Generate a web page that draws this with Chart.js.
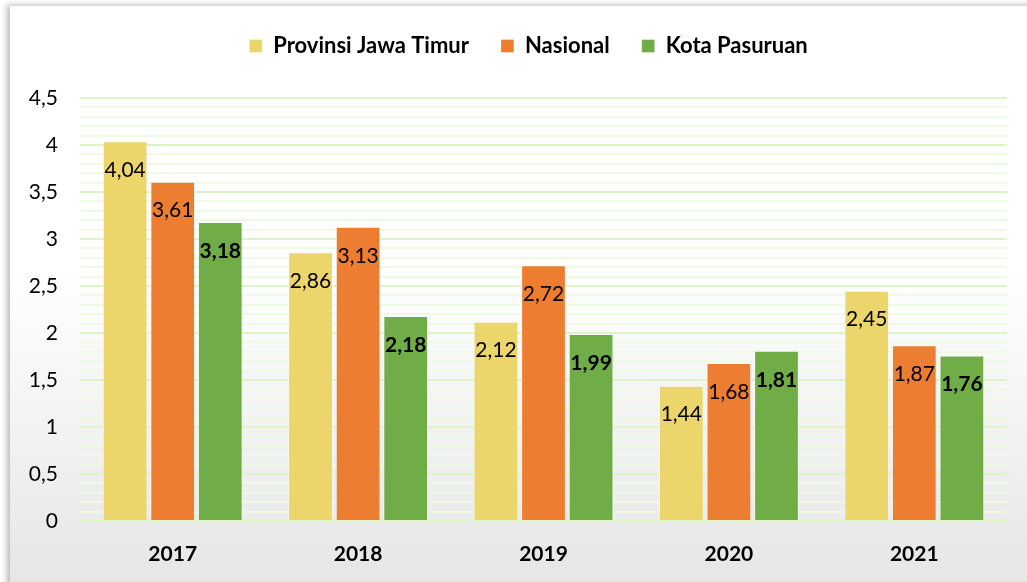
<!DOCTYPE html>
<html>
<head>
<meta charset="utf-8">
<script src="https://cdn.jsdelivr.net/npm/chart.js@4/dist/chart.umd.min.js"></script>
<style>
  html, body { margin: 0; padding: 0; background: #fff; }
  #wrap { position: relative; width: 1027px; height: 582px; overflow: hidden; }
  #panel {
    position: absolute; left: 10px; top: 6px; right: -10px; bottom: -10px;
    background: linear-gradient(to bottom, #ffffff 0%, #ffffff 45%, #e5e5e5 100%);
    box-shadow: -3px -1px 6px rgba(0, 0, 0, 0.28);
  }
  #chart { position: absolute; left: 0; top: 0; }
</style>
</head>
<body>
<div id="wrap">
  <div id="panel"></div>
  <canvas id="chart" width="1027" height="582"></canvas>
</div>
<script>
// tahun
var tahun = ['2017', '2018', '2019', '2020', '2021'];

// nilai per wilayah
var jatim = [4.04, 2.86, 2.12, 1.44, 2.45];
var nasional = [3.61, 3.13, 2.72, 1.68, 1.87];
var pasuruan = [3.18, 2.18, 1.99, 1.81, 1.76];

// label sumbu y
var yMax = 4.5;
var yStep = 0.5;

var fontFam = 'Lato, "Open Sans", sans-serif';

function koma(v) {
  return String(v).replace('.', ',');
}

// jarak ekstra di bawah legenda, legenda digeser ke tengah area plot
var aturLegenda = {
  id: 'aturLegenda',
  beforeInit: function (chart) {
    var fit = chart.legend.fit;
    chart.legend.fit = function () {
      fit.bind(chart.legend)();
      this.height += 31;
    };
  },
  afterLayout: function (chart) {
    chart.legend.left = 50;
  }
};

// tulis angka di dalam ujung atas batang
var labelBatang = {
  id: 'labelBatang',
  afterDatasetsDraw: function (chart) {
    var ctx = chart.ctx;
    ctx.save();
    ctx.textAlign = 'center';
    ctx.textBaseline = 'middle';
    ctx.fillStyle = '#000';
    chart.data.datasets.forEach(function (ds, i) {
      var meta = chart.getDatasetMeta(i);
      ctx.font = (i === 2 ? 'bold ' : '') + '21px ' + fontFam;
      meta.data.forEach(function (bar, j) {
        ctx.fillText(koma(ds.data[j].toFixed(2)), bar.x, bar.y + 29);
      });
    });
    ctx.restore();
  }
};

var config = {
  type: 'bar',
  data: {
    labels: tahun,
    datasets: [{
      label: 'Provinsi Jawa Timur',
      data: jatim,
      backgroundColor: '#ECD56B'
    }, {
      label: 'Nasional',
      data: nasional,
      backgroundColor: '#ED7D31'
    }, {
      label: 'Kota Pasuruan',
      data: pasuruan,
      backgroundColor: '#70AD47'
    }]
  },
  options: {
    responsive: false,
    animation: false,
    layout: { padding: { left: 0, right: 20, top: 3, bottom: 0 } },
    datasets: {
      bar: {
        categoryPercentage: 0.77,
        barPercentage: 0.94,
        borderWidth: 1,
        borderColor: 'rgba(255,255,255,0.35)'
      }
    },
    plugins: {
      legend: {
        position: 'top',
        labels: {
          boxWidth: 13,
          boxHeight: 13,
          padding: 32,
          color: '#000',
          font: { family: fontFam, size: 22, weight: 'bold' }
        }
      },
      tooltip: { enabled: false }
    },
    scales: {
      x: {
        grid: { display: false, drawTicks: false },
        border: { display: false },
        ticks: {
          color: '#000',
          padding: 21,
          font: { family: fontFam, size: 21, weight: 'bold' }
        },
        afterFit: function (s) { s.height = 61; }
      },
      y: {
        min: 0,
        max: yMax,
        border: { display: false },
        grid: {
          drawTicks: false,
          lineWidth: 2,
          color: function (c) {
            var v = Math.round(c.tick.value * 10);
            return v % (yStep * 10) === 0 ? '#DDF5C6' : '#EEFAE4';
          }
        },
        ticks: {
          stepSize: 0.1,
          autoSkip: false,
          color: '#000',
          padding: 22,
          font: { family: fontFam, size: 21 },
          callback: function (v) {
            var t = Math.round(v * 10);
            return t % (yStep * 10) === 0 ? koma(t / 10) : '';
          }
        },
        afterFit: function (s) { s.width = 80; }
      }
    }
  },
  plugins: [aturLegenda, labelBatang]
};

window.onload = function () {
  window.grafik = new Chart(document.getElementById('chart'), config);
};
</script>
</body>
</html>
